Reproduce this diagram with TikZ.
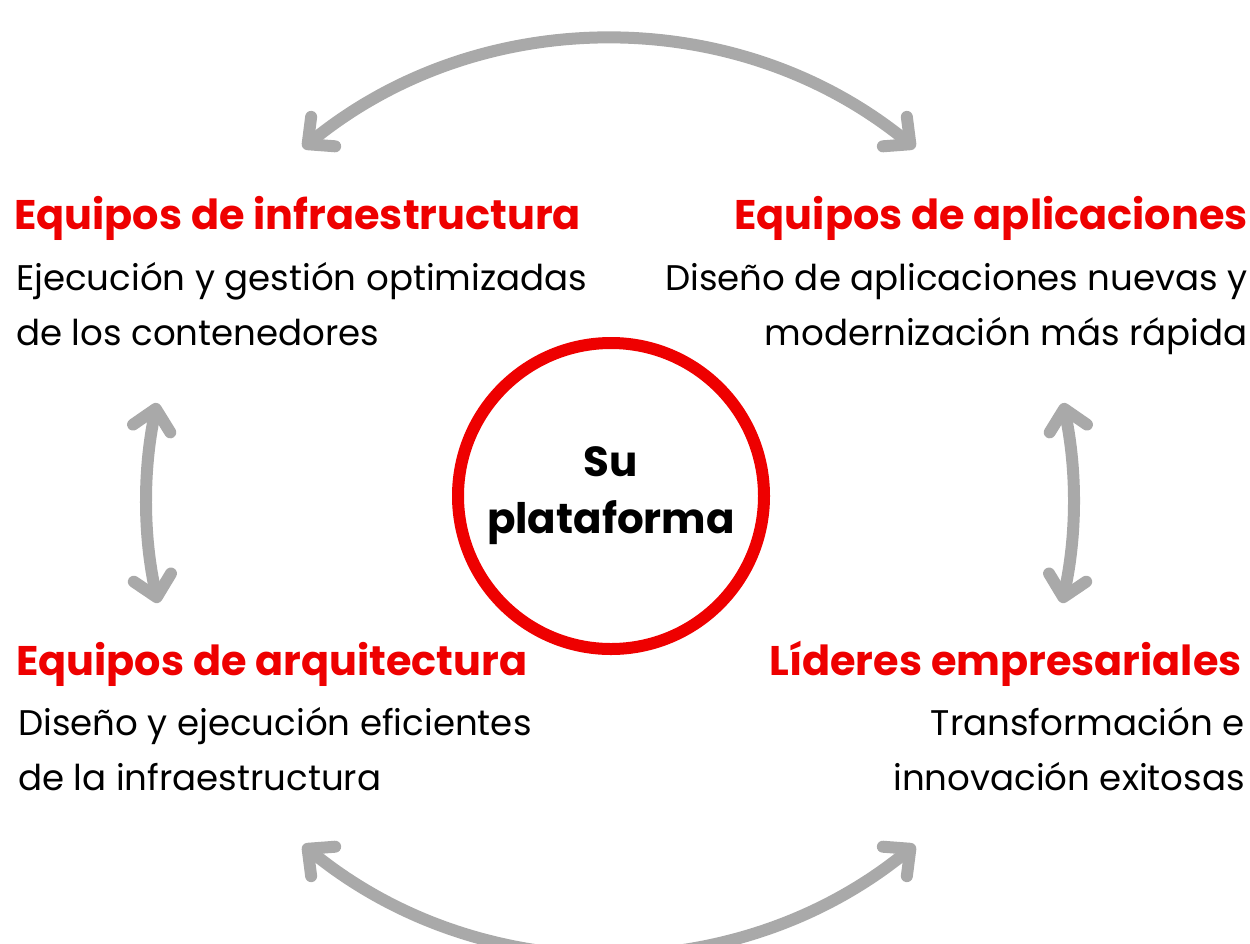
\documentclass[tikz,border=0pt]{standalone}
\usepackage{fontspec}
\setmainfont{Poppins}
\usetikzlibrary{arrows.meta}
\definecolor{rhred}{HTML}{EE0000}
\definecolor{arrowgray}{HTML}{A9A9A9}
\tikzset{
  title/.style={inner sep=0pt, text=rhred, font=\fontsize{41.4}{50}\selectfont\bfseries},
  body/.style={inner sep=0pt, text=black, font=\fontsize{35.6}{55}\selectfont},
  twoway/.style={draw=arrowgray, line width=12pt, line cap=round,
    {Straight Barb[length=20pt,width=38pt,line cap=round,line join=round]}-{Straight Barb[length=20pt,width=38pt,line cap=round,line join=round]}},
  platform/.style={circle, draw=rhred, line width=12pt, minimum size=306pt, inner sep=0pt,
    align=center, font=\fontsize{42}{57}\selectfont\bfseries}
}
\begin{document}
\begin{tikzpicture}[x=1pt,y=-1pt]
\useasboundingbox (0,0) rectangle (1250,943);
\clip (0,0) rectangle (1250,943);
% center
\node[platform] (plat) at (611,496) {Su\\plataforma};
% titles
\node[title, anchor=base west] (t1) at (14,229) {Equipos de infraestructura};
\node[title, anchor=base east] (t2) at (1248,229) {Equipos de aplicaciones};
\node[title, anchor=base west] (t3) at (16,675) {Equipos de arquitectura};
\node[title, anchor=base east] (t4) at (1242,675) {Líderes empresariales};
% bodies (base = last line)
\node[body, anchor=base west, align=left] (b1) at (16,345) {Ejecución y gestión optimizadas\\de los contenedores};
\node[body, anchor=base east, align=right] (b2) at (1248,345) {Diseño de aplicaciones nuevas y\\modernización más rápida};
\node[body, anchor=base west, align=left] (b3) at (18,790) {Diseño y ejecución eficientes\\de la infraestructura};
\node[body, anchor=base east, align=right] (b4) at (1245,790) {Transformación e\\innovación exitosas};
% arrow end points
\coordinate (ta) at (303,148);
\coordinate (tb) at (915,148);
\coordinate (ba) at (303,845);
\coordinate (bb) at (915,845);
\coordinate (la) at (157,403);
\coordinate (lb) at (158,603);
\coordinate (ra) at (1063,403);
\coordinate (rb) at (1062,603);
\draw[twoway] (ta) .. controls (481,3) and (737,3) .. (tb);
\draw[twoway] (ba) .. controls (481,990) and (737,990) .. (bb);
\draw[twoway] (la) .. controls (143,470) and (143,535) .. (lb);
\draw[twoway] (ra) .. controls (1077,470) and (1077,535) .. (rb);
\end{tikzpicture}
\end{document}
